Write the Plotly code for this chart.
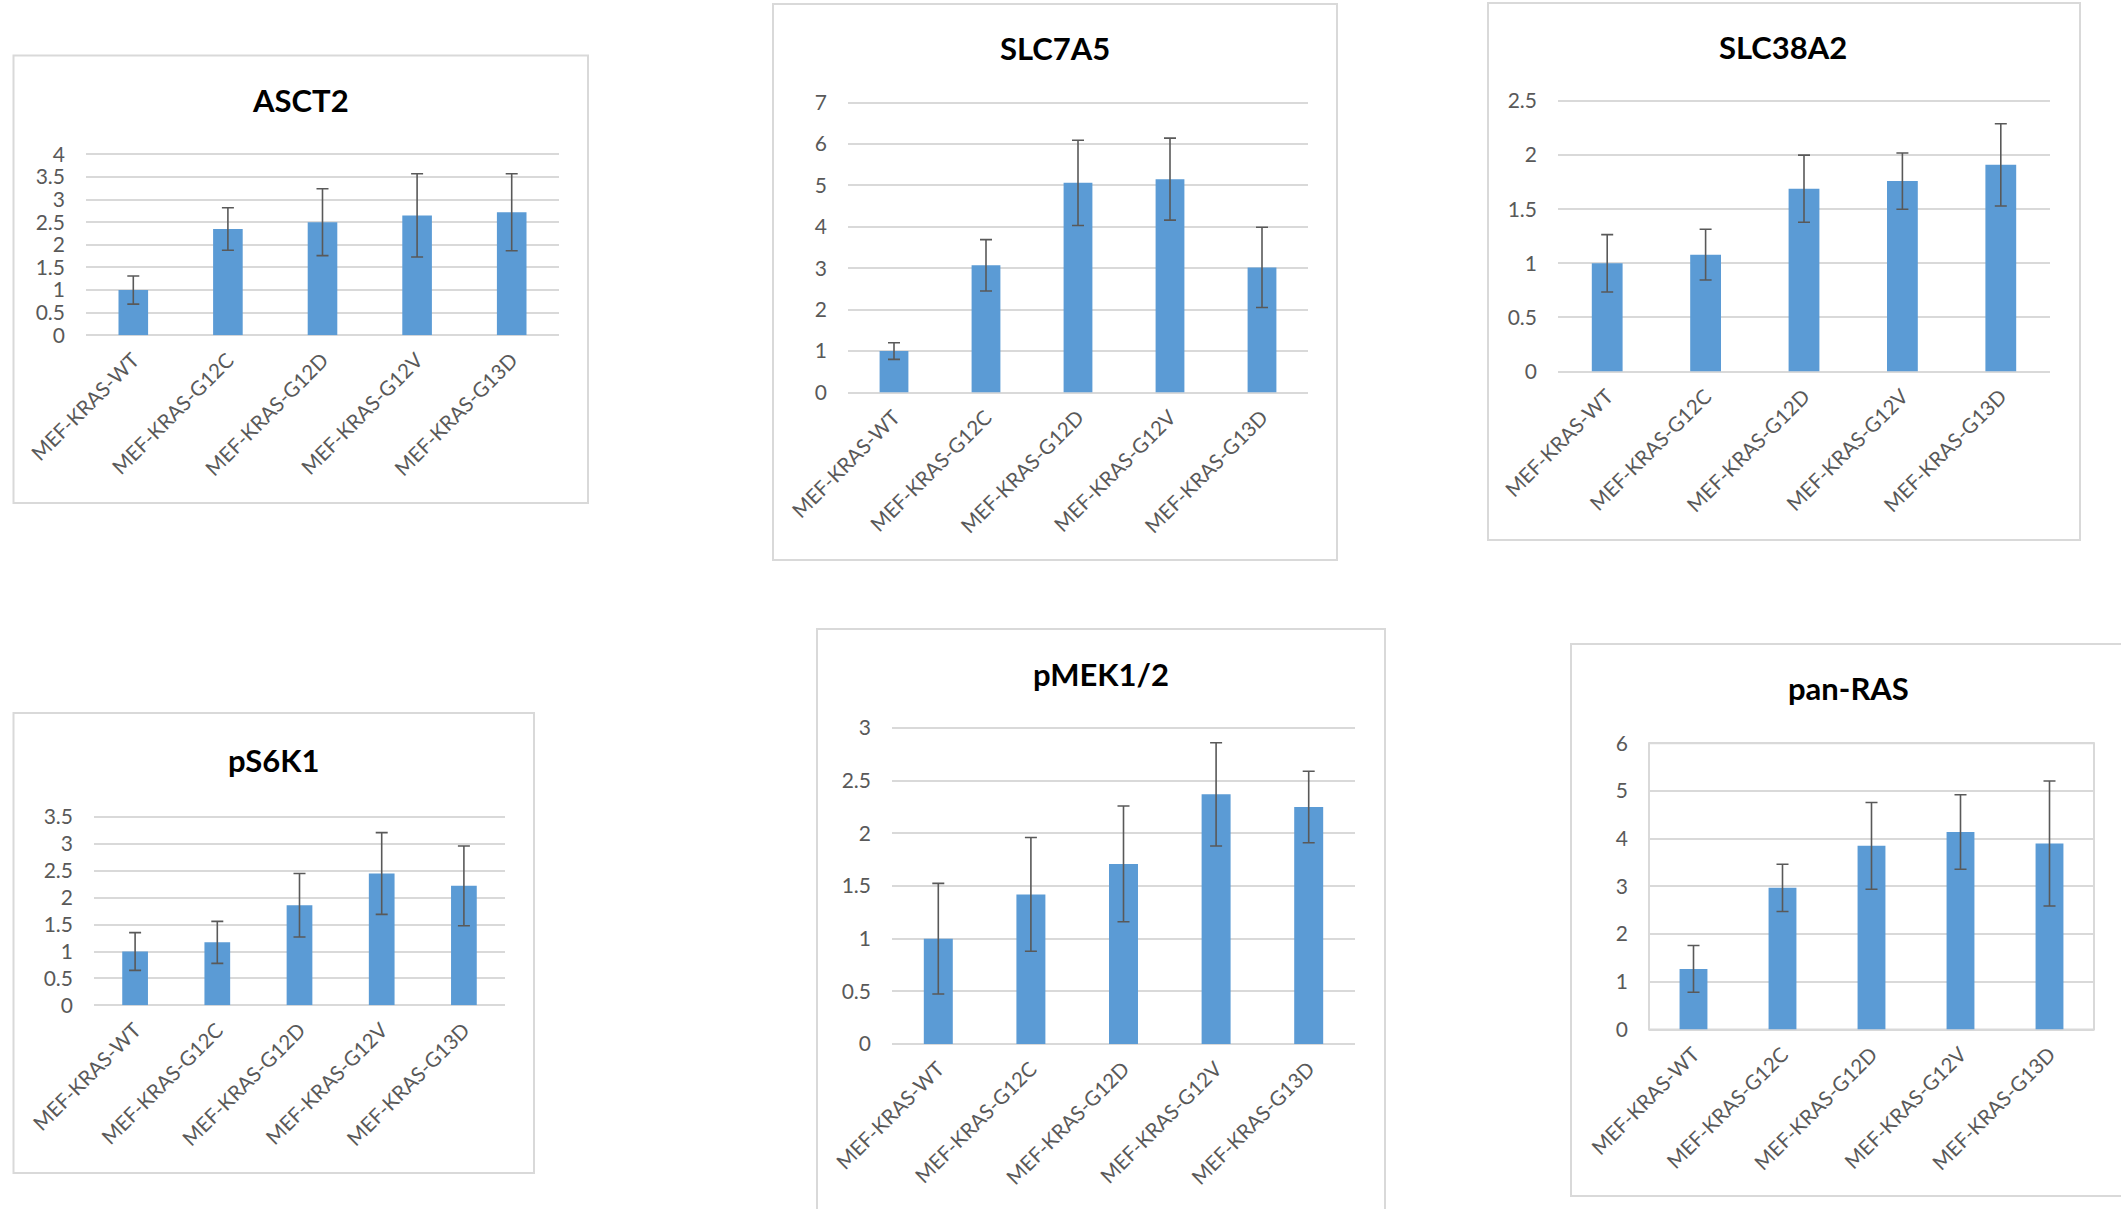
import plotly.graph_objects as go

W, H = 2121, 1209

# ---------------- data ----------------
categories = ["MEF-KRAS-WT", "MEF-KRAS-G12C", "MEF-KRAS-G12D", "MEF-KRAS-G12V", "MEF-KRAS-G13D"]

asct2_mean = [1.00, 2.35, 2.50, 2.65, 2.72]
asct2_err = [0.31, 0.47, 0.74, 0.92, 0.85]

slc7a5_mean = [1.00, 3.07, 5.06, 5.15, 3.02]
slc7a5_err = [0.20, 0.62, 1.03, 0.99, 0.97]

slc38a2_mean = [1.00, 1.08, 1.69, 1.76, 1.91]
slc38a2_err = [0.265, 0.235, 0.31, 0.26, 0.38]

ps6k1_mean = [1.00, 1.17, 1.86, 2.45, 2.22]
ps6k1_err = [0.35, 0.39, 0.59, 0.76, 0.74]

pmek_mean = [1.00, 1.42, 1.71, 2.37, 2.25]
pmek_err = [0.525, 0.54, 0.55, 0.49, 0.34]

panras_mean = [1.27, 2.97, 3.85, 4.14, 3.90]
panras_err = [0.49, 0.495, 0.91, 0.78, 1.31]

titles = ["ASCT2", "SLC7A5", "SLC38A2", "pS6K1", "pMEK1/2", "pan-RAS"]
means = [asct2_mean, slc7a5_mean, slc38a2_mean, ps6k1_mean, pmek_mean, panras_mean]
errs = [asct2_err, slc7a5_err, slc38a2_err, ps6k1_err, pmek_err, panras_err]
y_max = [4, 7, 2.5, 3.5, 3, 6]
y_step = [0.5, 1, 0.5, 0.5, 0.5, 1]

# ---------------- layout (pixel geometry) ----------------
# plot area: x0, x1, y_top (at y_max), y_bottom (at 0)
plot_px = [
    (86, 559, 154.3, 335.3),
    (848, 1308, 102.5, 392.5),
    (1558, 2050, 101, 371.5),
    (94, 505, 817, 1005.3),
    (892, 1355, 728, 1044),
    (1649, 2094, 743.3, 1029.5),
]
box_px = [
    (13.5, 588, 55.5, 503),
    (773, 1337, 4, 560),
    (1488, 2080, 3, 540),
    (13.5, 534, 713, 1173),
    (817, 1385, 629, 1220),
    (1571, 2130, 644, 1196),
]
title_px = [(300, 100), (1055, 48), (1783, 47), (273, 760), (1101, 674), (1848, 688)]
PAD = 3  # px of headroom so the top gridline is drawn

BAR = "#5B9BD5"
GRID = "#D9D9D9"
TXT = "#595959"
FONT = "Lato"

fig = go.Figure()
shapes = []
annotations = []
layout_axes = {}

for i in range(6):
    n = i + 1
    xa = "x" if n == 1 else f"x{n}"
    ya = "y" if n == 1 else f"y{n}"
    fig.add_trace(go.Bar(
        x=categories, y=means[i],
        error_y=dict(type="data", array=errs[i], visible=True,
                     color=TXT, thickness=1.6, width=6),
        marker=dict(color=BAR, line=dict(width=0)),
        xaxis=xa, yaxis=ya, showlegend=False,
    ))
    x0, x1, yt, yb = plot_px[i]
    top_val = y_max[i] * (1 + PAD / (yb - yt))
    layout_axes["xaxis" if n == 1 else f"xaxis{n}"] = dict(
        domain=[x0 / W, x1 / W], anchor=ya, automargin=False,
        tickangle=-45, ticks="", showline=False, showgrid=False, zeroline=False,
        tickfont=dict(family=FONT, size=20.5, color=TXT),
        ticklabelstandoff=8, fixedrange=True,
    )
    layout_axes["yaxis" if n == 1 else f"yaxis{n}"] = dict(
        domain=[1 - yb / H, 1 - (yt - PAD) / H], anchor=xa, automargin=False,
        range=[0, top_val], dtick=y_step[i], tick0=0,
        showgrid=True, gridcolor=GRID, gridwidth=1.6,
        zeroline=True, zerolinecolor=GRID, zerolinewidth=1.6,
        showline=False, ticks="",
        tickfont=dict(family=FONT, size=21, color=TXT),
        ticklabelstandoff=20, fixedrange=True,
    )
    bx0, bx1, by0, by1 = box_px[i]
    shapes.append(dict(type="rect", xref="paper", yref="paper",
                       x0=bx0 / W, x1=bx1 / W, y0=1 - by1 / H, y1=1 - by0 / H,
                       line=dict(color=GRID, width=2), fillcolor="rgba(0,0,0,0)",
                       layer="below"))
    tx, ty = title_px[i]
    annotations.append(dict(text=f"<b>{titles[i]}</b>", xref="paper", yref="paper",
                            x=tx / W, y=1 - ty / H, xanchor="center", yanchor="middle",
                            showarrow=False, font=dict(family=FONT, size=31, color="#000000")))

# pan-RAS has a plot-area border (top edge at y_max, bottom at 0)
x0, x1, yt, yb = plot_px[5]
shapes.append(dict(type="rect", xref="paper", yref="paper",
                   x0=x0 / W, x1=x1 / W, y0=1 - yb / H, y1=1 - yt / H,
                   line=dict(color=GRID, width=2),
                   fillcolor="rgba(0,0,0,0)", layer="below"))

fig.update_layout(
    width=W, height=H, autosize=False,
    margin=dict(l=0, r=0, t=0, b=0, autoexpand=False),
    paper_bgcolor="white", plot_bgcolor="white",
    bargap=0.687,
    shapes=shapes, annotations=annotations,
    **layout_axes,
)

fig.write_html("out.html", config={"displayModeBar": False},
               post_script="document.body.style.margin='0';document.body.style.overflow='hidden';")
